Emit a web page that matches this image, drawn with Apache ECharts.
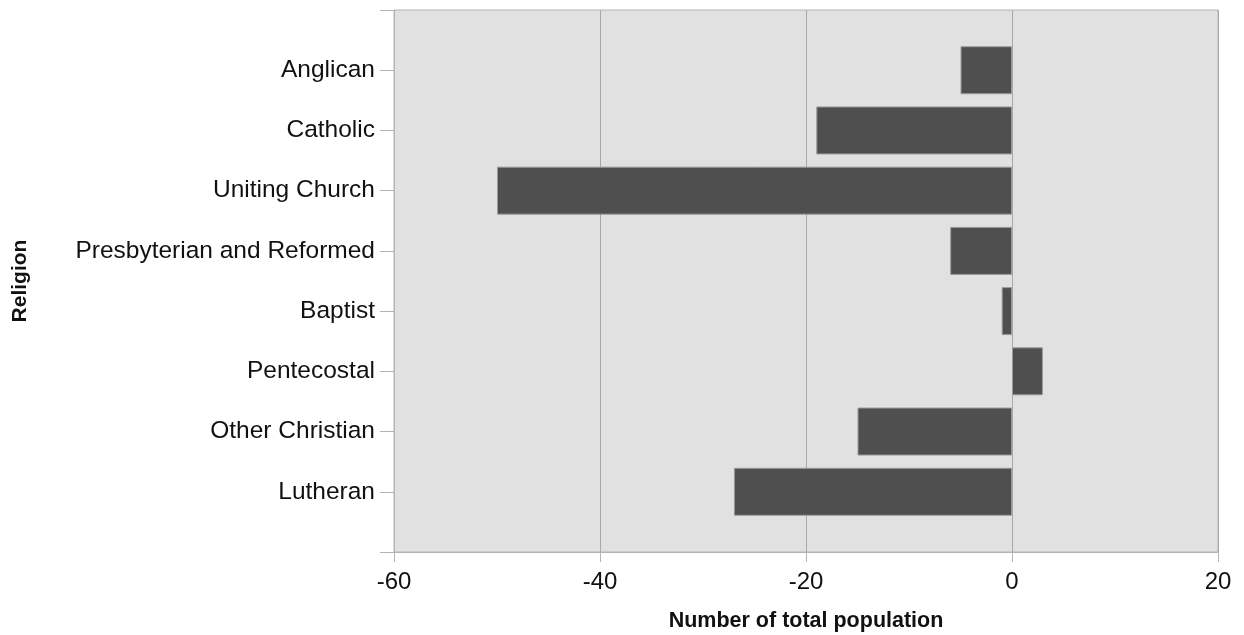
<!DOCTYPE html>
<html>
<head>
<meta charset="utf-8">
<script src="https://cdn.jsdelivr.net/npm/echarts@6/dist/echarts.min.js"></script>
<style>
html,body{margin:0;padding:0;background:#fff;}
#chart{width:1244px;height:635px;}
</style>
</head>
<body>
<div id="chart"></div>
<script>
// Blank padding slots at both ends (the reference leaves one slot of space above and below)
const categories = ['', 'Anglican', 'Catholic', 'Uniting Church', 'Presbyterian and Reformed', 'Baptist', 'Pentecostal', 'Other Christian', 'Lutheran', ''];
const values = [null, -5, -19, -50, -6, -1, 3, -15, -27, null];
const xTicks = { min: -60, max: 20, interval: 20 };

const chart = echarts.init(document.getElementById('chart'), null, { renderer: 'canvas' });
chart.setOption({
  animation: false,
  grid: {
    left: 394, right: 26, top: 10, bottom: 83,
    outerBoundsMode: 'none',
    show: true, backgroundColor: '#e1e1e1', borderColor: '#b4b4b4', borderWidth: 1
  },
  xAxis: {
    type: 'value',
    min: xTicks.min, max: xTicks.max, interval: xTicks.interval,
    name: 'Number of total population',
    nameLocation: 'middle',
    nameGap: 58,
    nameTextStyle: { fontFamily: 'Liberation Sans', fontWeight: 'bold', fontSize: 21.5, color: '#111' },
    axisLine: { show: true, onZero: false, lineStyle: { color: '#b4b4b4', width: 1 } },
    axisTick: { show: true, length: 10, lineStyle: { color: '#b4b4b4' } },
    axisLabel: { margin: 18, fontFamily: 'Liberation Sans', fontSize: 24, color: '#111' },
    splitLine: { show: true, lineStyle: { color: '#a8a8a8', width: 1 } }
  },
  yAxis: {
    type: 'category',
    data: categories,
    inverse: true,
    boundaryGap: false,
    name: 'Religion',
    nameLocation: 'middle',
    nameGap: 363,
    nameRotate: 90,
    nameTextStyle: { fontFamily: 'Liberation Sans', fontWeight: 'bold', fontSize: 21, color: '#111' },
    axisLine: { show: true, onZero: false, lineStyle: { color: '#b4b4b4', width: 1 } },
    axisTick: { show: true, length: 14, interval: 0, lineStyle: { color: '#b4b4b4' } },
    axisLabel: { margin: 19, interval: 0, fontFamily: 'Liberation Sans', fontSize: 24.5, color: '#111' },
    splitLine: { show: false }
  },
  series: [{
    type: 'bar',
    data: values,
    barWidth: 48,
    itemStyle: { color: '#4f4f4f', borderColor: '#9a9a9a', borderWidth: 1 }
  }]
});
</script>
</body>
</html>
